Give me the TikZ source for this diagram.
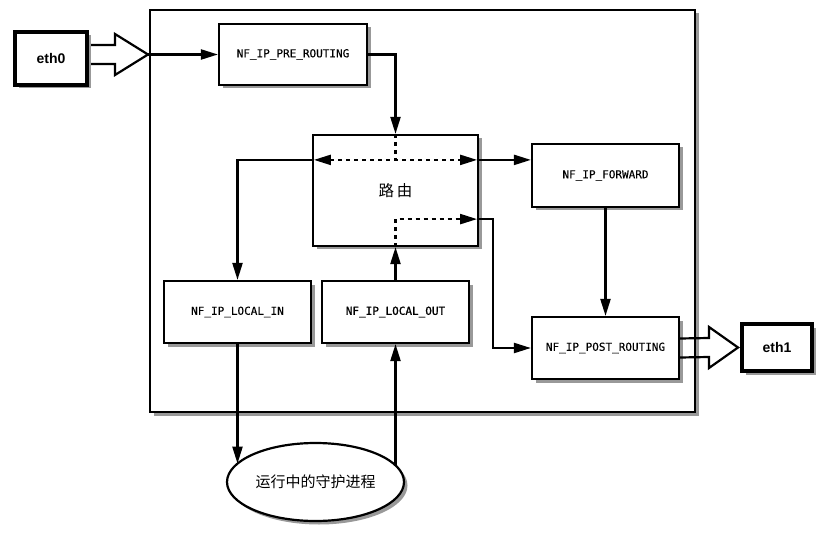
\documentclass[tikz,border=0pt]{standalone}
\usepackage{fontspec}
\setmainfont{Liberation Sans}
\newfontfamily\monof[FakeBold=0.25]{DejaVu Sans Mono}
\newfontfamily\monob[FakeBold=1.2]{DejaVu Sans Mono}
\newfontfamily\cjk{Noto Sans CJK SC}
\usetikzlibrary{arrows.meta,shadows,shapes.geometric,calc}
\begin{document}
\begin{tikzpicture}[x=1pt,y=-1pt,
  shd/.style={drop shadow={shadow xshift=3.5pt,shadow yshift=-3.5pt,fill=black!50,opacity=0.8}},
  hookbox/.style={draw,line width=2.2pt,fill=white,shd,inner sep=0pt,
    minimum width=147pt,minimum height=62pt,font=\monof\fontsize{11}{13}\selectfont},
  ethbox/.style={draw,line width=4pt,fill=white,shd,inner sep=0pt,
    font=\bfseries\fontsize{14}{16}\selectfont},
  tip/.style={-{Triangle[length=17pt,width=10pt]}},
  conn/.style={line width=2.2pt,tip},
  dsh/.style={line width=2.2pt,dash pattern=on 4pt off 4pt},
  hollow/.style={draw,line width=2.2pt,line join=miter}
]
\useasboundingbox (0,0) rectangle (826,534);
% outer frame
\node[draw,line width=2.4pt,fill=white,shd,inner sep=0pt,
  minimum width=545pt,minimum height=402pt] (frame) at (422.5,211) {};

% nodes
\node[ethbox,minimum width=72pt,minimum height=53pt] (eth0) at (51,58.5) {eth0};
\node[ethbox,minimum width=70pt,minimum height=47pt] (eth1) at (777,347.5) {eth1};
\node[hookbox,minimum width=148pt,minimum height=61pt] (pre) at (293,54.5) {NF\_IP\_PRE\_ROUTING};
\node[draw,line width=2.2pt,fill=white,shd,inner sep=0pt,
  minimum width=165pt,minimum height=111pt,font=\cjk\fontsize{15.5}{18}\selectfont] (rtr) at (395.5,190.5) {路\,由\hspace{6pt}};
\node[hookbox,minimum height=63pt] (fwd) at (605.5,175.5) {NF\_IP\_FORWARD};
\node[hookbox] (post) at (605.5,348) {NF\_IP\_POST\_ROUTING};
\node[hookbox] (li) at (237.5,312) {NF\_IP\_LOCAL\_IN};
\node[hookbox,font=\monob\fontsize{11}{13}\selectfont] (lo) at (395.5,312) {NF\_IP\_LOCAL\_OUT};
\node[ellipse,draw,line width=2.2pt,fill=white,shd,inner sep=0pt,
  minimum width=177pt,minimum height=78pt,font=\cjk\fontsize{15}{18}\selectfont] (ell) at (315.5,482) {运行中的守护进程};

% hollow arrows
\coordinate (tip0) at (148,54.5);
\draw[hollow] ($(eth0.east |- tip0)+(2,-9.5)$) -- (115,45) -- (115,34) -- (tip0)
  -- (115,75) -- (115,64) -- ($(eth0.east |- tip0)+(2,9.5)$);
\draw[hollow] ($(post.east)+(0,-9.5)$) -- (709,338) -- (709,327) -- ($(eth1.west)+(-2,0)$)
  -- (709,368) -- (709,357) -- ($(post.east)+(0,9.5)$);

% connectors
\draw[conn] (tip0) -- (pre.west);
\draw[conn] (pre.east) -| (rtr.north);
\coordinate (rt) at ($(rtr.north)+(0,26)$);
\coordinate (rl) at (rtr.west |- rt);
\coordinate (rr) at (rtr.east |- rt);
\draw[dsh] (rtr.north) -- (rt);
\draw[dsh,{Triangle[length=17pt,width=10pt]}-{Triangle[length=17pt,width=10pt]}]
  ($(rl)+(2,0)$) -- ($(rr)+(-2,0)$);
\draw[conn] (rl) -| (li.north);
\draw[conn] (rr) -- (fwd.west |- rr);
\draw[conn] (lo.north) -- (rtr.south);
\coordinate (rb) at ($(rtr.south)+(0,-28)$);
\draw[dsh,tip] (rtr.south) -- (rb) -- ($(rtr.east |- rb)+(-2,0)$);
\draw[conn] (rtr.east |- rb) -- ++(14,0) |- (post.west);
\draw[conn] (fwd.south) -- (post.north);
\draw[conn] (li.south) -- (li.south |- ell.167);
\draw[conn] (lo.south |- ell.11) -- (lo.south);
\end{tikzpicture}
\end{document}
